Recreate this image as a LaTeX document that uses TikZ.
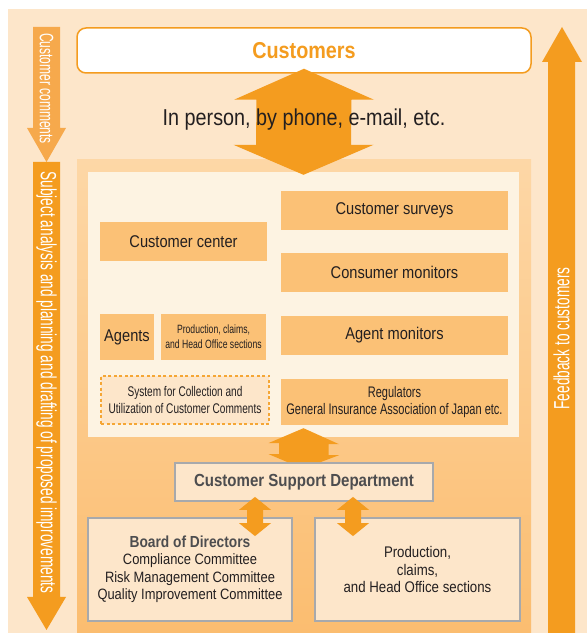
\documentclass[tikz,border=0pt]{standalone}
\usepackage{fontspec}
\setmainfont{Liberation Sans}[FakeStretch=0.86]
\newfontfamily\condfont{Liberation Sans}[FakeStretch=0.72]
\newfontfamily\bandfont{Liberation Sans}[FakeStretch=0.62]
\usetikzlibrary{calc}
\definecolor{peach}{HTML}{FDE6CA}
\definecolor{deep}{HTML}{F49C1F}
\definecolor{soft}{HTML}{F6A94C}
\definecolor{cream}{HTML}{FDF3E2}
\definecolor{boxfill}{HTML}{FBC176}
\definecolor{paneltop}{HTML}{FDD7A6}
\definecolor{panelbot}{HTML}{FBBD70}
\definecolor{frame}{HTML}{A7A9AC}
\definecolor{ink}{HTML}{231F20}
\definecolor{slate}{HTML}{4D4D4F}

\begin{document}
\begin{tikzpicture}[x=1pt,y=1pt,
	source/.style={fill=boxfill,text=ink,inner sep=0pt,align=center},
	unit/.style={fill=peach,draw=frame,line width=1.8pt,inner sep=0pt,align=center,text=ink},
	band/.style={text=white,inner sep=0pt,font=\bandfont\fontsize{22}{24}\selectfont}]
	\useasboundingbox (0,0) rectangle (587,633);
	\fill[white] (0,0) rectangle (587,633);
	\fill[peach] (8,0) rectangle (587,624);
	\shade[top color=paneltop,bottom color=panelbot] (77,0) rectangle (531,473);

	\fill[soft] (33,606) -- (60,606) -- (60,505) -- (66,505) -- (46.5,471) -- (27,505) -- (33,505) -- cycle;
	\fill[deep] (33,471) -- (60,471) -- (60,36) -- (66,36) -- (46.5,3) -- (27,36) -- (33,36) -- cycle;
	\fill[deep] (548,0) -- (575,0) -- (575,571) -- (582,571) -- (562,606) -- (542,571) -- (548,571) -- cycle;
	\node[band,rotate=-90,font=\bandfont\fontsize{19.4}{22}\selectfont] (comments) at (46.5,544.5) {Customer comments};
	\node[band,rotate=-90] (analysis) at (46.5,250.5) {Subject analysis and planning and drafting of proposed improvements};
	\node[band,rotate=90] (feedback) at (561.5,294.5) {Feedback to customers};

	\node[draw=deep,line width=1.5pt,fill=white,rounded corners=9pt,minimum width=454pt,minimum height=45pt,
		text=deep,font=\bfseries\fontsize{23}{26}\selectfont] (cust) at (304,582.5) {Customers};
	\node[fill=cream,minimum width=431pt,minimum height=265pt,inner sep=0pt] (inner) at (303.5,328.5) {};

	\coordinate (a1) at ([yshift=5pt]cust.south);
	\coordinate (a2) at ([yshift=-3pt]inner.north);
	\fill[deep] (a1) -- ++(70,-31) -- ++(-22.5,0) -- ($(a2)+(47.5,30)$) -- ++(22.5,0) -- (a2) -- ++(-70,30) -- ++(22.5,0)
		-- ($(a1)+(-47.5,-31)$) -- ++(-22.5,0) -- cycle;
	\node[text=ink,font=\fontsize{23}{26}\selectfont] (via) at (304,513) {In person, by phone, e-mail, etc.};

	\node[source,minimum width=227pt,minimum height=39pt,font=\fontsize{17}{20}\selectfont] (surveys) at (394.5,422.5) {Customer surveys};
	\node[source,minimum width=227pt,minimum height=39pt,font=\fontsize{17}{20}\selectfont] (consumer) at (394.5,360.5) {Consumer monitors};
	\node[source,minimum width=227pt,minimum height=39pt,font=\fontsize{17}{20}\selectfont] (agentmon) at (394.5,297.5) {Agent monitors};
	\node[source,minimum width=227pt,minimum height=46pt,font=\condfont\fontsize{15.3}{17.5}\selectfont] (regulators) at (394.5,231) {Regulators\\General Insurance Association of Japan etc.};
	\node[source,minimum width=167pt,minimum height=39pt,font=\fontsize{17}{20}\selectfont] (center) at (183.5,391.5) {Customer center};
	\node[source,minimum width=54pt,minimum height=46pt,font=\fontsize{17}{20}\selectfont] (agents) at (127,296) {Agents};
	\node[source,minimum width=105pt,minimum height=46pt,font=\condfont\fontsize{12}{15}\selectfont] (prodL) at (213.5,296) {Production, claims,\\and Head Office sections};
	\node[fill=peach,draw=deep!90,line width=1.8pt,dash pattern=on 3pt off 2.5pt,inner sep=0pt,align=center,text=ink,
		minimum width=168pt,minimum height=48pt,font=\condfont\fontsize{14}{17}\selectfont] (system) at (185,233) {System for Collection and\\Utilization of Customer Comments};

	\node[unit,minimum width=258pt,minimum height=38pt,text=slate,font=\bfseries\fontsize{17.5}{20}\selectfont] (csd) at (304,151) {Customer Support Department};
	\node[unit,minimum width=204pt,minimum height=103pt,font=\fontsize{15}{17.5}\selectfont] (board) at (190,63.5)
		{\textcolor{slate}{\bfseries\fontsize{16}{17.5}\selectfont Board of Directors}\\Compliance Committee\\Risk Management Committee\\Quality Improvement Committee};
	\node[unit,minimum width=205pt,minimum height=103pt,font=\fontsize{15.4}{17.5}\selectfont] (prodR) at (417.5,63.5) {Production,\\claims,\\and Head Office sections};

	\coordinate (b1) at ([yshift=9pt]inner.south);
	\fill[deep] (b1) -- ++(35.5,-16) -- ++(-10.5,0) -- ++(0,-11) -- ++(10.5,0) -- ($(csd.north)+(16.6,0)$)
		-- ($(csd.north)+(-16.6,0)$) -- ++(-18.9,8) -- ++(10.5,0) -- ++(0,11) -- ++(-10.5,0) -- cycle;

	\foreach \dx/\tgt in {-49/board,49/prodR}{
		\coordinate (s1) at ($(csd.south)+(\dx,5)$);
		\coordinate (s2) at ($(s1 |- \tgt.north)+(0,-19)$);
		\fill[deep] (s1) -- ++(16,-13) -- ++(-8,0) -- ($(s2)+(8,13)$) -- ++(8,0) -- (s2) -- ++(-16,13) -- ++(8,0)
			-- ($(s1)+(-8,-13)$) -- ++(-8,0) -- cycle;
	}
\end{tikzpicture}
\end{document}
